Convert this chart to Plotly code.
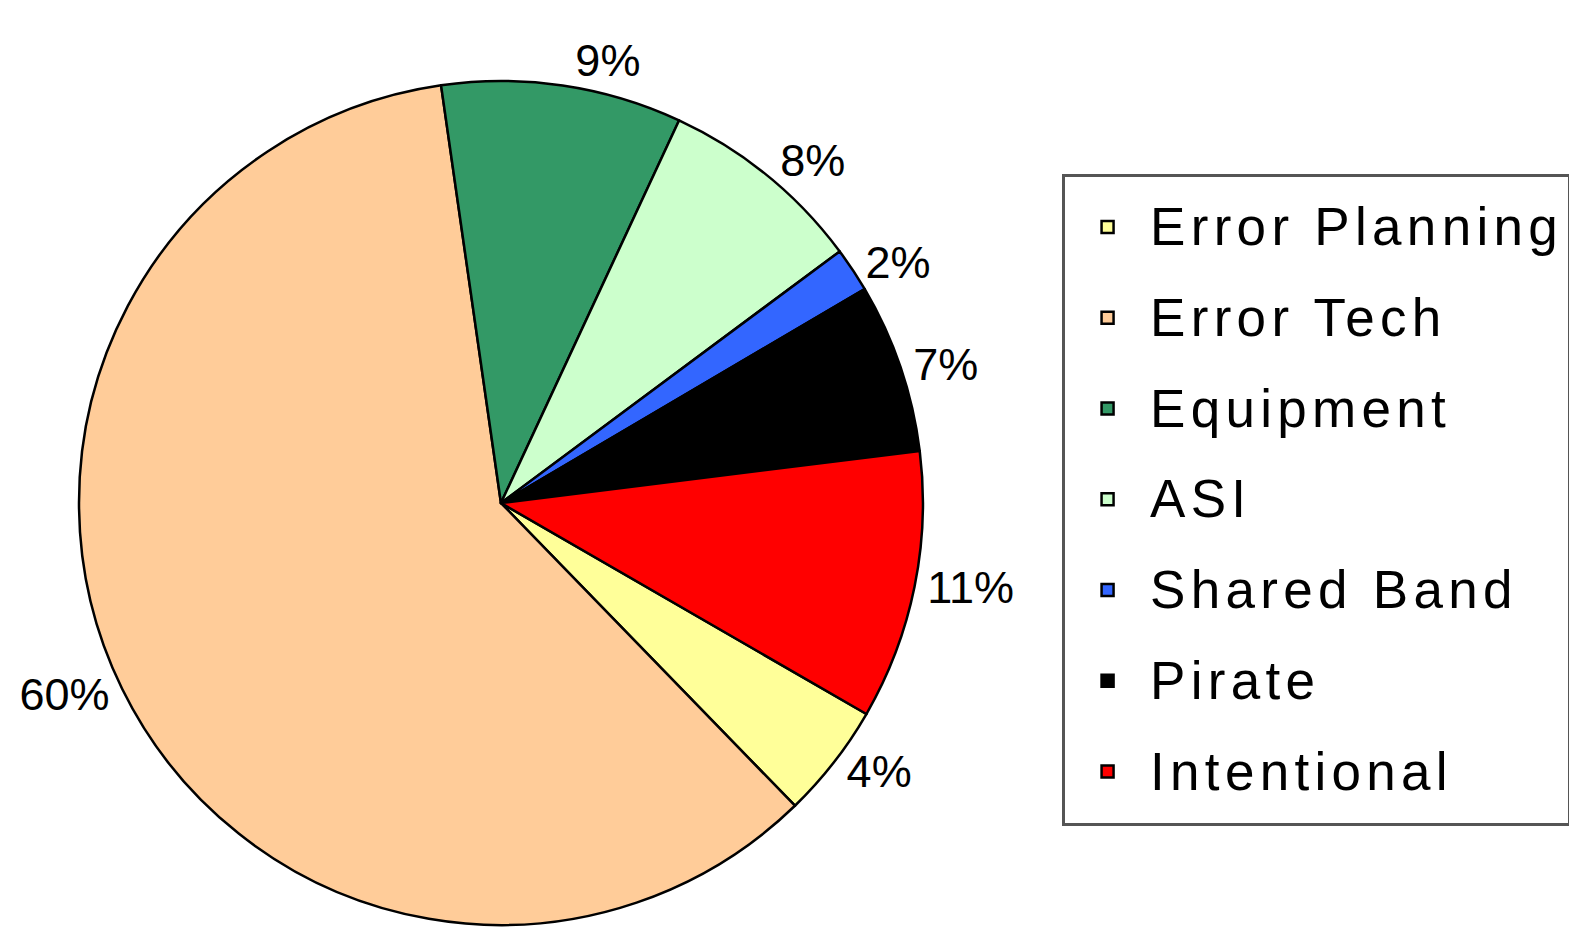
import plotly.graph_objects as go

categories = ["Error Planning", "Error Tech", "Equipment", "ASI", "Shared Band", "Pirate", "Intentional"]
shares = [4.4, 60.0, 9.2, 7.9, 1.7, 6.5, 10.3]
pct_labels = ["4%", "60%", "9%", "8%", "2%", "7%", "11%"]
colors = ["#FFFF99", "#FFCC99", "#339966", "#CCFFCC", "#3366FF", "#000000", "#FF0000"]

legend_labels = [
    f"<span style='font-size:53px;letter-spacing:5.3px;baseline-shift:8px'>{c}</span>"
    for c in categories
]

fig = go.Figure(
    go.Pie(
        labels=legend_labels,
        values=shares,
        text=pct_labels,
        textinfo="text",
        textposition="outside",
        textfont=dict(size=45, color="black", family="Arial, Liberation Sans"),
        marker=dict(colors=colors, line=dict(color="black", width=2.5)),
        sort=False,
        direction="clockwise",
        rotation=120,
        hoverinfo="skip",
        domain=dict(x=[0.0450, 0.5802], y=[0.0108, 0.9212]),
    )
)

fig.update_layout(
    width=1577,
    height=927,
    margin=dict(l=0, r=0, t=0, b=0),
    paper_bgcolor="white",
    plot_bgcolor="white",
    font=dict(family="Arial, Liberation Sans", color="black"),
    showlegend=True,
    legend=dict(
        x=0.6684,
        y=1 - 165.5 / 927,
        xanchor="left",
        yanchor="top",
        bgcolor="white",
        bordercolor="#555555",
        borderwidth=3,
        font=dict(size=67.5, color="black", family="Arial, Liberation Sans"),
        itemwidth=75,
        traceorder="normal",
    ),
)

fig.write_html("out.html")
